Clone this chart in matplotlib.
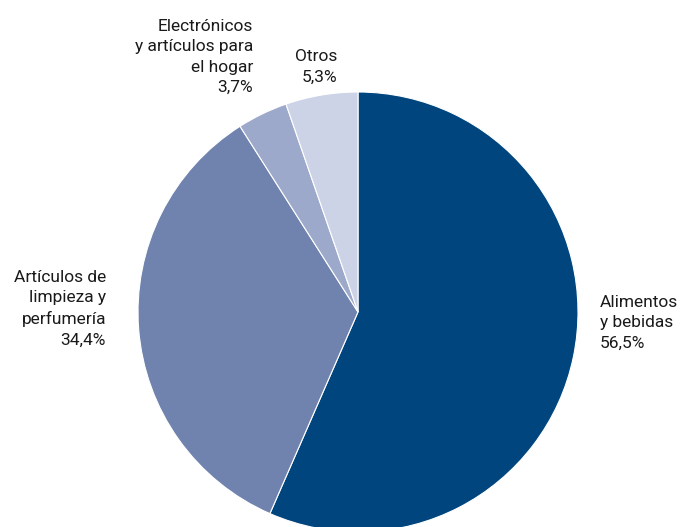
import matplotlib.pyplot as plt

# slice data, clockwise from 12 o'clock
categories = ["Alimentos\ny bebidas", "Artículos de\nlimpieza y\nperfumería",
              "Electrónicos\ny artículos para\nel hogar", "Otros"]
shares = [56.5, 34.4, 3.7, 5.3]
pct_labels = ["56,5%", "34,4%", "3,7%", "5,3%"]
COLORS = ["#00457E", "#6F83AE", "#9DA9CB", "#CDD3E6"]

# label anchors (data coords) and alignment
LABEL_POS = [(1.1, -0.05, "left"), (-1.145, 0.014, "right"),
             (-0.477, 1.159, "right"), (-0.095, 1.114, "right")]

plt.rcParams["font.family"] = ["Liberation Sans Narrow", "Roboto", "DejaVu Sans"]

fig = plt.figure(figsize=(6.81, 5.27), dpi=100)
# pie centre at (358, 312) px, radius 220 px; axes kept inside the figure
ax = fig.add_axes([138 / 681, 0, 440 / 681, (220 + 215) / 527])

ax.pie(shares, colors=COLORS, startangle=90, counterclock=False, radius=1,
       wedgeprops=dict(edgecolor="white", linewidth=0.8))
ax.set_xlim(-1, 1)
ax.set_ylim(-215 / 220, 1)
ax.set_aspect("auto")
ax.axis("off")

for (x, y, ha), cat, pct in zip(LABEL_POS, categories, pct_labels):
    ax.text(x, y, f"{cat}\n{pct}", ha=ha, va="center", fontsize=12.5,
            color="#1a1a1a", linespacing=1.45, clip_on=False)

fig.savefig("out.png", dpi=100)
